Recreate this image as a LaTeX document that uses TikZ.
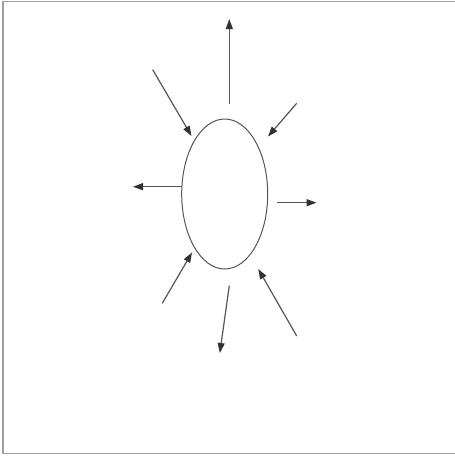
\documentclass[tikz,border=0pt]{standalone}
\usetikzlibrary{arrows.meta,shapes.geometric}
\definecolor{lc}{RGB}{85,85,85}
\definecolor{tc}{RGB}{50,50,50}
\definecolor{bc}{RGB}{160,160,160}
\begin{document}
\begin{tikzpicture}[x=1pt,y=-1pt,
  ray/.style={draw=lc,line width=1.2pt,-{Triangle[length=10pt,width=7pt,color=tc]}},
  cell/.style={draw=lc,line width=1pt,ellipse,minimum width=86pt,minimum height=150pt,inner sep=0pt}]
\useasboundingbox (0,0) rectangle (455,456);
\draw[bc,line width=1.2pt] (3,1.5) rectangle (458,453.5);
\node[cell] (e) at (224.7,194) {};
% endpoints
\coordinate (upS) at (229.3,104);
\coordinate (upT) at (229.3,19);
\coordinate (ulS) at (152.7,69.7);
\coordinate (ulT) at (191.5,136);
\coordinate (urS) at (296.7,103.3);
\coordinate (urT) at (268,136.5);
\coordinate (lS) at (181.7,186.7);
\coordinate (lT) at (133,186.7);
\coordinate (rS) at (277.3,202.7);
\coordinate (rT) at (316.5,202.7);
\coordinate (llS) at (162.3,303.3);
\coordinate (llT) at (192,252.5);
\coordinate (dS) at (229.3,285.7);
\coordinate (dT) at (219.8,353);
\coordinate (lrS) at (296.7,336);
\coordinate (lrT) at (258.3,269);
\draw[ray] (upS) -- (upT);
\draw[ray] (ulS) -- (ulT);
\draw[ray] (urS) -- (urT);
\draw[ray] (lS) -- (lT);
\draw[ray] (rS) -- (rT);
\draw[ray] (llS) -- (llT);
\draw[ray] (dS) -- (dT);
\draw[ray] (lrS) -- (lrT);
\end{tikzpicture}
\end{document}
